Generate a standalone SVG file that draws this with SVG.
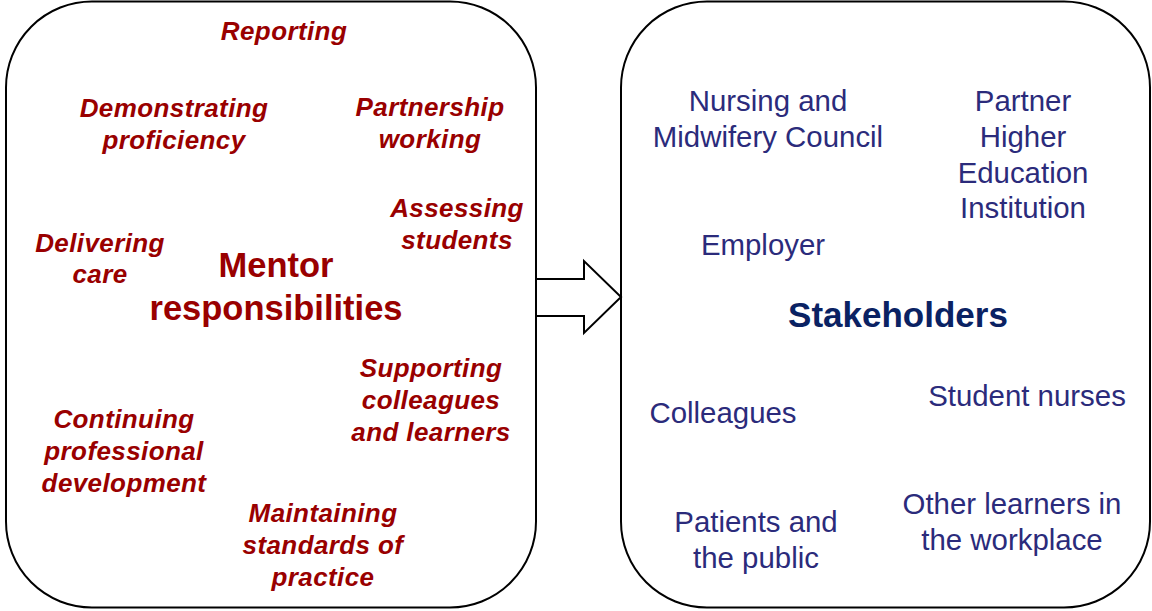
<svg xmlns="http://www.w3.org/2000/svg" width="1152" height="611" viewBox="0 0 1152 611">
<style>
.box{fill:#fff;stroke:#000;stroke-width:2}
.r{font-family:"Liberation Sans",Arial,sans-serif;font-size:26px;font-weight:bold;font-style:italic;fill:#990000;text-anchor:middle;letter-spacing:0.4px}
.rt{font-family:"Liberation Sans",Arial,sans-serif;font-size:34.5px;font-weight:bold;fill:#990000;text-anchor:middle}
.b{font-family:"Liberation Sans",Arial,sans-serif;font-size:29.4px;fill:#2B2B7B;text-anchor:middle}
.bt{font-family:"Liberation Sans",Arial,sans-serif;font-size:35px;font-weight:bold;fill:#0A2263;text-anchor:middle}
</style>
<rect width="1152" height="611" fill="#fff"/>
<g id="mentor">
<rect class="box" x="6" y="1.5" width="530" height="606" rx="86" ry="86"/>
<text class="rt" x="276" y="277">Mentor</text>
<text class="rt" x="276" y="320">responsibilities</text>
<text class="r" x="284" y="40">Reporting</text>
<text class="r" x="174" y="117">Demonstrating</text>
<text class="r" x="174" y="149">proficiency</text>
<text class="r" x="430" y="116">Partnership</text>
<text class="r" x="430" y="148">working</text>
<text class="r" x="457" y="217">Assessing</text>
<text class="r" x="457" y="249">students</text>
<text class="r" x="100" y="252">Delivering</text>
<text class="r" x="100" y="283">care</text>
<text class="r" x="431" y="377">Supporting</text>
<text class="r" x="431" y="409">colleagues</text>
<text class="r" x="431" y="441">and learners</text>
<text class="r" x="124" y="428">Continuing</text>
<text class="r" x="124" y="460">professional</text>
<text class="r" x="124" y="492">development</text>
<text class="r" x="323" y="522">Maintaining</text>
<text class="r" x="323" y="554">standards of</text>
<text class="r" x="323" y="586">practice</text>
</g>
<g id="stakeholders">
<rect class="box" x="621" y="1.5" width="529" height="606" rx="86" ry="86"/>
<text class="bt" x="898" y="327">Stakeholders</text>
<text class="b" x="768" y="111">Nursing and</text>
<text class="b" x="768" y="147">Midwifery Council</text>
<text class="b" x="1023" y="111">Partner</text>
<text class="b" x="1023" y="147">Higher</text>
<text class="b" x="1023" y="183">Education</text>
<text class="b" x="1023" y="218">Institution</text>
<text class="b" x="763" y="255">Employer</text>
<text class="b" x="723" y="423">Colleagues</text>
<text class="b" x="1027" y="406">Student nurses</text>
<text class="b" x="756" y="532">Patients and</text>
<text class="b" x="756" y="568">the public</text>
<text class="b" x="1012" y="514">Other learners in</text>
<text class="b" x="1012" y="550">the workplace</text>
</g>
<g id="connectors">
<path d="M536,279 H584 V261 L621,297 L584,333 V316 H536 Z" fill="#fff" stroke="#000" stroke-width="2" stroke-linejoin="miter"/>
</g>
</svg>
